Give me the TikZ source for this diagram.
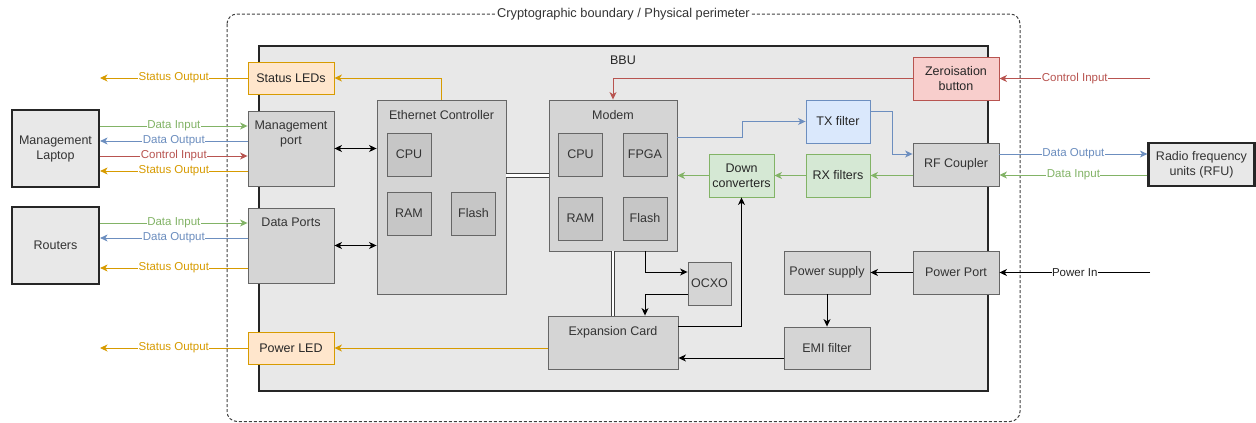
\documentclass[tikz,border=0pt]{standalone}
\usepackage{fontspec}
\setmainfont{Liberation Sans}
\usetikzlibrary{arrows.meta,calc}
\definecolor{cOr}{HTML}{D79B00}
\definecolor{cOrF}{HTML}{FFE6CC}
\definecolor{cGr}{HTML}{82B366}
\definecolor{cGrF}{HTML}{D5E8D4}
\definecolor{cBl}{HTML}{6C8EBF}
\definecolor{cBlF}{HTML}{DAE8FC}
\definecolor{cRd}{HTML}{B85450}
\definecolor{cRdF}{HTML}{F8CECC}
\definecolor{cEdge}{HTML}{666666}
\definecolor{cGray}{HTML}{D5D5D5}
\definecolor{cInner}{HTML}{C6C6C6}
\definecolor{cBBU}{HTML}{E8E8E8}
\definecolor{cTxt}{HTML}{333333}
\begin{document}
\begin{tikzpicture}[x=1pt,y=-1pt,
  every node/.style={font=\fontsize{12.5}{15}\selectfont},
  gbox/.style={draw=cEdge, fill=cGray, text=cTxt, line width=0.9pt, inner sep=1pt, align=center},
  ibox/.style={gbox, fill=cInner, minimum width=44pt, minimum height=43pt},
  obox/.style={gbox, draw=cOr, fill=cOrF, text=black!85},
  grbox/.style={gbox, draw=cGr, fill=cGrF, text=black!85},
  blbox/.style={gbox, draw=cBl, fill=cBlF, text=black!85},
  rdbox/.style={gbox, draw=cRd, fill=cRdF, text=black!85},
  extbox/.style={draw=black!85, line width=2.2pt, fill=cBBU, text=cTxt, align=center, inner sep=1pt},
  ttl/.style={anchor=north, yshift=-7pt, text=cTxt, align=center},
  tip/.style={-{Stealth[length=7.5pt,width=7pt,inset=2.2pt]}},
  btip/.style={{Stealth[length=7.5pt,width=7pt,inset=2.2pt]}-{Stealth[length=7.5pt,width=7pt,inset=2.2pt]}},
  conn/.style={line width=0.9pt},
  elab/.style={midway, fill=white, inner sep=0.5pt, font=\fontsize{11.5}{13}\selectfont},
  linkline/.style={draw=black!75, line width=0.9pt, double=white, double distance=2.5pt}
]
\useasboundingbox (0,0) rectangle (1256,423);

% cryptographic boundary
\draw[black!75, line width=1pt, dash pattern=on 3pt off 2pt, rounded corners=10pt] (227,14) rectangle (1020,421.5);
\node[fill=white, inner sep=1pt, text=cTxt, font=\fontsize{12.8}{14}\selectfont] (cbl) at (623.5,14) {Cryptographic boundary / Physical perimeter};

% BBU
\draw[black!85, line width=2pt, fill=cBBU] (259,46) rectangle (988,391);
\node[text=black!85] (bbu) at (623,60) {BBU};

% left column
\node[obox, minimum width=86pt, minimum height=32pt] (sled) at (291,78) {Status LEDs};
\node[gbox, minimum width=86pt, minimum height=75pt, label={[ttl]north:Management\\port}] (mp) at (291,148.5) {};
\node[gbox, minimum width=86pt, minimum height=75pt, label={[ttl]north:Data Ports}] (dp) at (291,245.5) {};
\node[obox, minimum width=86pt, minimum height=32pt] (pled) at (291,348) {Power LED};

% external
\node[extbox, minimum width=87pt, minimum height=77pt] (lap) at (55.5,148.5) {Management\\Laptop};
\node[extbox, minimum width=87pt, minimum height=77pt] (rout) at (55.5,245.5) {Routers};
\node[extbox, minimum width=106pt, minimum height=43pt] (rfu) at (1201.5,164.5) {Radio frequency\\units (RFU)};
\coordinate (sledout) at (100,78);
\coordinate (pledout) at (100,348);
\coordinate (ctlin) at (1150,78.5);
\coordinate (pwrin) at (1150,272.5);

% Ethernet controller
\node[gbox, minimum width=129pt, minimum height=194pt, label={[ttl]north:Ethernet Controller}] (ec) at (441.5,197) {};
\node[ibox] (eccpu) at (409,154.5) {CPU};
\node[ibox] (ecram) at (409,213.5) {RAM};
\node[ibox] (ecfl) at (473.5,213.5) {Flash};

% Modem
\node[gbox, minimum width=128pt, minimum height=151pt, label={[ttl]north:Modem}] (modem) at (613,175.5) {};
\node[ibox] (mcpu) at (580.5,154.5) {CPU};
\node[ibox] (mfpga) at (645,154.5) {FPGA};
\node[ibox] (mram) at (580.5,218.5) {RAM};
\node[ibox] (mfl) at (645,218.5) {Flash};

% RF chain
\node[rdbox, minimum width=86pt, minimum height=43pt] (zb) at (956,78.5) {Zeroisation\\button};
\node[blbox, minimum width=64pt, minimum height=43pt] (tx) at (838,121.5) {TX filter};
\node[gbox, minimum width=86pt, minimum height=43pt] (rf) at (956,164.5) {RF Coupler};
\node[grbox, minimum width=64pt, minimum height=43pt] (rx) at (838,175.5) {RX filters};
\node[grbox, minimum width=65pt, minimum height=43pt] (dc) at (741.5,175.5) {Down\\converters};

% power
\node[gbox, minimum width=86pt, minimum height=43pt] (pp) at (956,272.5) {Power Port};
\node[gbox, minimum width=86pt, minimum height=43pt] (ps) at (827,272.5) {Power supply};
\node[gbox, minimum width=86pt, minimum height=42pt] (emi) at (827,348) {EMI filter};
\node[gbox, minimum width=130pt, minimum height=53pt, label={[ttl]north:Expansion Card}] (exp) at (613,342.5) {};
\node[gbox, minimum width=43pt, minimum height=43pt] (ocxo) at (709.5,283.5) {OCXO};

% laptop connections
\draw[conn, tip, cGr] ([yshift=22.5pt]lap.east) -- ([yshift=22.5pt]mp.west) node[elab, text=cGr] {Data Input};
\draw[conn, tip, cBl] ([yshift=7.5pt]mp.west) -- ([yshift=7.5pt]lap.east) node[elab, text=cBl] {Data Output};
\draw[conn, tip, cRd] ([yshift=-7.5pt]lap.east) -- ([yshift=-7.5pt]mp.west) node[elab, text=cRd] {Control Input};
\draw[conn, tip, cOr] ([yshift=-22.5pt]mp.west) -- ([yshift=-22.5pt]lap.east) node[elab, text=cOr] {Status Output};
% routers
\draw[conn, tip, cGr] ([yshift=22.5pt]rout.east) -- ([yshift=22.5pt]dp.west) node[elab, text=cGr] {Data Input};
\draw[conn, tip, cBl] ([yshift=7.5pt]dp.west) -- ([yshift=7.5pt]rout.east) node[elab, text=cBl] {Data Output};
\draw[conn, tip, cOr] ([yshift=-22.5pt]dp.west) -- ([yshift=-22.5pt]rout.east) node[elab, text=cOr] {Status Output};
% LEDs
\draw[conn, tip, cOr] (sled.west) -- (sledout) node[elab, text=cOr] {Status Output};
\draw[conn, tip, cOr] (pled.west) -- (pledout) node[elab, text=cOr] {Status Output};
\draw[conn, tip, cOr] (ec.north) |- (sled.east);
\draw[conn, tip, cOr] (exp.west |- pled.east) -- (pled.east);

% ports to EC
\draw[conn, btip, black] (mp.east) -- (ec.west |- mp.east);
\draw[conn, btip, black] (dp.east) -- (ec.west |- dp.east);

% links
\draw[linkline] (ec.east |- modem.west) -- (modem.west);
\draw[linkline] (modem.south) -- (exp.north);

% zeroisation
\draw[conn, tip, cRd] (ctlin) -- (zb.east) node[elab, text=cRd] {Control Input};
\draw[conn, tip, cRd] (zb.west) -| (modem.north);

% TX path
\draw[conn, tip, cBl] ([yshift=38.5pt]modem.east) -- ++(65,0) |- (tx.west);
\draw[conn, tip, cBl] ([yshift=10.5pt]tx.east) -- ++(22,0) |- ([yshift=10.5pt]rf.west);
\draw[conn, tip, cBl] ([yshift=10.5pt]rf.east) -- ([yshift=10.5pt]rfu.west) node[elab, text=cBl] {Data Output};
% RX path
\draw[conn, tip, cGr] ([yshift=-10.5pt]rfu.west) -- ([yshift=-10.5pt]rf.east) node[elab, text=cGr] {Data Input};
\draw[conn, tip, cGr] (rf.west |- rx.east) -- (rx.east);
\draw[conn, tip, cGr] (rx.west) -- (dc.east);
\draw[conn, tip, cGr] (dc.west) -- (modem.east |- dc.west);

% power
\draw[conn, tip, black] (pwrin) -- (pp.east) node[elab, text=black!85] {Power In};
\draw[conn, tip, black] (pp.west) -- (ps.east);
\draw[conn, tip, black] (ps.south) -- (emi.north);
\draw[conn, tip, black] ([yshift=-10pt]emi.west) -- ([yshift=-15.5pt]exp.east);

% OCXO / expansion
\draw[conn, tip, black] ([xshift=32pt]modem.south) |- ([yshift=11.5pt]ocxo.west);
\draw[conn, tip, black] ([yshift=-10.5pt]ocxo.west) -| ([xshift=32pt]exp.north);
\draw[conn, tip, black] ([yshift=16.5pt]exp.east) -| (dc.south);
\end{tikzpicture}
\end{document}
